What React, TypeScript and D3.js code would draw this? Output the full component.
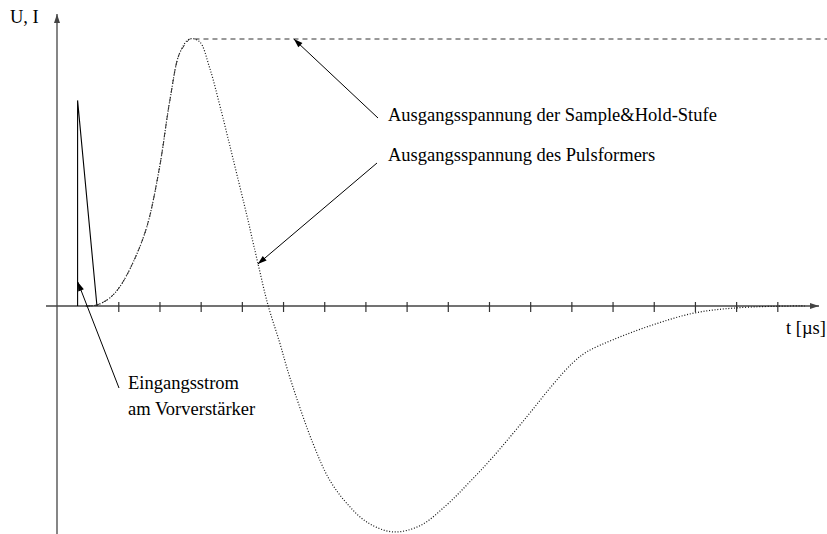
import React from "react";
import * as d3 from "d3";

// time axis ticks (µs), no labels in the original
const tickTimes = [1, 2, 3, 4, 5, 6, 7, 8, 9, 10, 11, 12, 13, 14, 15, 16, 17];

// Eingangsstrom (current pulse into the preamp)
const currentT = [0, 0, 0.47];
const currentI = [0, 0.77, 0];

// Pulsformer output, rising edge up to the maximum
const riseT = [0.2, 0.47, 0.78, 1.02, 1.34, 1.68, 1.99, 2.24, 2.48, 2.72];
const riseU = [0, 0.004, 0.03, 0.071, 0.161, 0.296, 0.52, 0.77, 0.948, 1.0];

// Pulsformer output after the maximum
const fallT = [2.96, 3.2, 3.45, 3.77, 4.1, 4.37, 4.62, 4.91, 5.15, 5.71, 6.12, 6.53, 7.02, 7.65, 8.31, 8.96, 9.52, 10.08, 10.9, 11.53, 12.02, 12.36, 12.99, 13.96, 14.98, 16.0, 17.3, 17.7];
const fallU = [0.99, 0.895, 0.753, 0.554, 0.345, 0.165, 0.005, -0.139, -0.266, -0.513, -0.652, -0.738, -0.809, -0.846, -0.823, -0.745, -0.659, -0.566, -0.416, -0.296, -0.213, -0.172, -0.127, -0.071, -0.026, -0.007, 0, 0];

// Sample&Hold holds the peak until the end of the plot
const holdEndT = 18.3;

const width = 827;
const height = 534;

const x = d3.scaleLinear().domain([-0.5, 18]).range([57, 819]);
const y = d3.scaleLinear().domain([0, 1]).range([306, 39]);

const arrowHead = (x1: number, y1: number, x2: number, y2: number, len = 9, half = 3) => {
  const a = Math.atan2(y2 - y1, x2 - x1);
  const bx = x2 - len * Math.cos(a);
  const by = y2 - len * Math.sin(a);
  const px = -Math.sin(a) * half;
  const py = Math.cos(a) * half;
  return `M${x2},${y2}L${bx + px},${by + py}L${bx - px},${by - py}Z`;
};

const Arrow = ({ x1, y1, x2, y2, color = "#000", w = 1 }: any) => (
  <g>
    <line x1={x1} y1={y1} x2={x2} y2={y2} stroke={color} strokeWidth={w} />
    <path d={arrowHead(x1, y1, x2, y2)} fill={color} />
  </g>
);

export default function App() {
  const zip = (ts: number[], vs: number[]) => ts.map((t, i) => [t, vs[i]] as [number, number]);
  const curve = d3
    .line<[number, number]>()
    .x((d) => x(d[0]))
    .y((d) => y(d[1]))
    .curve(d3.curveCatmullRom.alpha(0.5));
  const straight = d3
    .line<[number, number]>()
    .x((d) => x(d[0]))
    .y((d) => y(d[1]));

  const rise = zip(riseT, riseU);
  const pulse = rise.concat(zip(fallT, fallU));
  const peakU = riseU[riseU.length - 1];
  // rise follows the pulse, then the held value stays flat
  const holdPath = (curve(rise) || "") + `L${x(holdEndT)},${y(peakU)}`;
  const current = zip(currentT, currentI);

  const font = { fontFamily: "'Liberation Serif', 'Times New Roman', serif", fontSize: 18.5 };

  // annotation targets, in data units
  const holdTip = [5.25, 1.0];
  const pulseTip = [4.375, 0.157];
  const currentTip = [0.005, 0.09];

  return (
    <svg width={width} height={height} style={{ position: "absolute", left: 0, top: 0, background: "#fff" }}>
      {/* axes */}
      <Arrow x1={57} y1={534} x2={57} y2={14} color="#444" w={1.3} />
      <Arrow x1={46} y1={y(0)} x2={819} y2={y(0)} color="#444" w={1.3} />
      {tickTimes.map((t) => (
        <line key={t} x1={x(t)} x2={x(t)} y1={y(0) - 4} y2={y(0) + 6} stroke="#333" strokeWidth={1.2} />
      ))}
      <text x={10} y={23} {...font}>U, I</text>
      <text x={786} y={334} {...font}>t [µs]</text>

      {/* curves */}
      <path d={straight(current) || ""} fill="none" stroke="#000" strokeWidth={1.1} />
      <path d={curve(pulse) || ""} fill="none" stroke="#111" strokeWidth={1.2} strokeDasharray="1,1.8" />
      <path d={holdPath} fill="none" stroke="#333" strokeWidth={1} strokeDasharray="5,4" />

      {/* annotations */}
      <Arrow x1={378} y1={118} x2={x(holdTip[0])} y2={y(holdTip[1])} />
      <text x={388} y={121} {...font}>Ausgangsspannung der Sample&amp;Hold-Stufe</text>
      <Arrow x1={377} y1={163} x2={x(pulseTip[0])} y2={y(pulseTip[1])} />
      <text x={388} y={161} {...font}>Ausgangsspannung des Pulsformers</text>
      <Arrow x1={119} y1={388} x2={x(currentTip[0])} y2={y(currentTip[1])} />
      <text x={128} y={389} {...font}>Eingangsstrom</text>
      <text x={128} y={415} {...font}>am Vorverstärker</text>
    </svg>
  );
}
